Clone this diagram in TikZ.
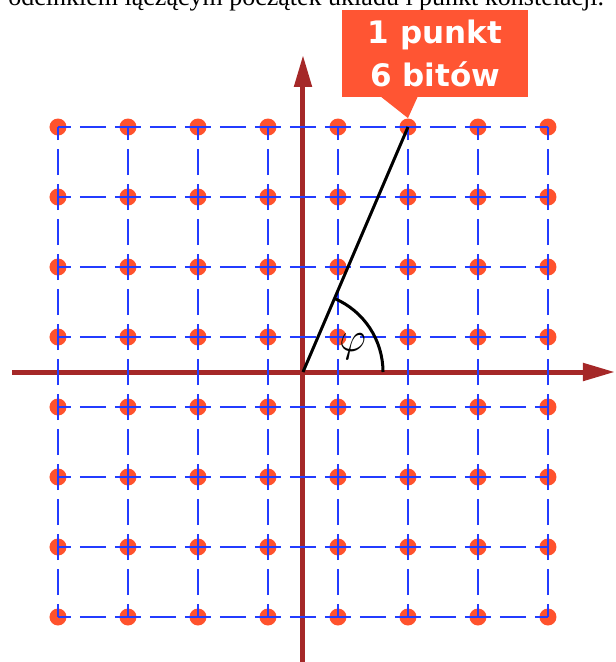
\documentclass[tikz,border=0pt]{standalone}
\usepackage{fontspec}
\setmainfont{Liberation Serif}
\newfontfamily\calloutfont{DejaVu Sans}
\usepackage{tikz}
\usetikzlibrary{arrows.meta, positioning, calc}
\definecolor{cdot}{RGB}{255,82,45}
\definecolor{ccallout}{RGB}{255,85,51}
\definecolor{cgrid}{RGB}{35,60,255}
\definecolor{caxis}{RGB}{165,40,40}

\begin{document}
\begin{tikzpicture}[
    x=35pt, y=35pt,
    >={Triangle[length=16pt, width=8.5pt]},
    axis/.style={caxis, line width=2.5pt},
    dot/.style={circle, fill=cdot, inner sep=0pt, minimum size=8.5pt},
    gridline/.style={cgrid, line width=1pt, dash pattern=on 13pt off 4.5pt, dash phase=6.5pt},
    vecline/.style={black, line width=1.5pt},
    callout/.style={fill=ccallout, text=white, font=\calloutfont\bfseries\fontsize{15.5}{21.5}\selectfont,
        minimum width=93pt, minimum height=43.5pt, align=center, inner sep=0pt},
]
    \useasboundingbox (-4.3286,-4.1429) rectangle (4.4714,5.3143);
    \clip (-4.3286,-4.1429) rectangle (4.4714,5.3143);

    % Text cut off at the top
    \node[anchor=base west, inner sep=0pt, font=\fontsize{13}{13}\selectfont] (txt) at (-4.214,5.229)
        {odcinkiem łączącym początek układu i punkt konstelacji.};

    % Axes
    \coordinate (O) at (0,0);
    \coordinate (xl) at (-4.157,0);
    \coordinate (xr) at (4.457,0);
    \coordinate (yb) at (0,-4.3);
    \coordinate (yt) at (0,4.529);
    \draw[axis, ->] (xl) -- (xr);
    \draw[axis, ->] (yb) -- (yt);

    % Constellation points
    \foreach \i in {1,...,8}
        \foreach \j in {1,...,8}
            \node[dot] (d-\i-\j) at (\i-4.5, \j-4.5) {};

    % Dashed grid
    \foreach \k in {1,...,8} {
        \draw[gridline] (d-1-\k.center) -- (d-8-\k.center);
        \draw[gridline] (d-\k-1.center) -- (d-\k-8.center);
    }

    % Vector to the point and its angle
    \draw[vecline] (O) -- (d-6-8.center);
    \draw[vecline] ($(O)+(1.143,0)$) arc[start angle=0, end angle=66.8, radius=1.143];
    \node[font=\fontsize{22}{22}\selectfont] (phi) at (0.71,0.36) {$\varphi$};

    % Callout
    \node[callout] (lbl) at (1.886,4.55) {1 punkt\\6 bitów};
    \fill[ccallout] ($(lbl.south)+(-0.786,0.02)$) -- (d-6-8.north) -- ($(lbl.south)+(-0.243,0.02)$) -- cycle;
\end{tikzpicture}
\end{document}
